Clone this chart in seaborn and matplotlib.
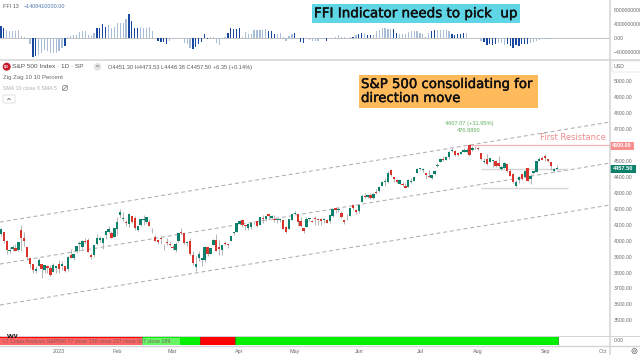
import matplotlib
matplotlib.use("Agg")
import matplotlib.pyplot as plt
import matplotlib.patheffects as pe
from matplotlib.patches import Circle, FancyBboxPatch, Rectangle
import numpy as np
import seaborn as sns

# S&P 500 daily candles, Dec 2022 to Sep 2023
candle_open = [
    4040, 4052, 3996, 3933, 3947, 3954, 3939, 4069, 4015, 3958, 3890, 3853, 3810, 3839, 3853, 3815, 3843, 3829, 3805, 3829,
    3853, 3840, 3839, 3823, 3910, 3888, 3932, 3977, 3960, 3999, 4002, 3911, 3909, 3978, 4001, 3982, 4036, 4053, 4049, 4020,
    4070, 4158, 4136, 4119, 4105, 4153, 4144, 4068, 4096, 4126, 4119, 4114, 4077, 4025, 4001, 4018, 3973, 3992, 3977,
    3963, 3938, 3998, 4055, 4048, 3987, 3998, 3912, 3835, 3894, 3876, 3878, 3958, 3917, 3975, 4002, 3959, 3939, 3982, 3974, 3999, 4046, 4056,
    4102, 4128, 4094, 4081, 4085, 4110, 4121, 4100, 4140, 4137, 4164, 4139, 4130, 4132, 4132, 4126, 4087, 4075, 4129,
    4166, 4164, 4122, 4082, 4084, 4136, 4124, 4143, 4132, 4138, 4126, 4127, 4122, 4157, 4204, 4190, 4176, 4132, 4155, 4156, 4226, 4190,
    4183, 4241, 4282, 4271, 4285, 4268, 4304, 4308, 4344, 4366, 4365, 4440, 4396, 4380, 4355, 4354, 4344, 4337, 4367, 4374, 4422,
    4450, 4442, 4422, 4404, 4394, 4415, 4467, 4491, 4514, 4508, 4521, 4563, 4561, 4550, 4543, 4555, 4558, 4598, 4565, 4584,
    4578, 4550, 4494, 4513, 4491, 4498, 4501, 4487, 4450, 4458, 4478, 4433, 4416, 4344, 4380, 4415, 4396, 4455, 4389, 4426, 4432, 4500, 4517,
    4530, 4510, 4490, 4434, 4451,
]
candle_high = [
    4080, 4052, 4001, 3957, 3974, 3977, 3990, 4100, 4053, 3958, 3890, 3854, 3838, 3888, 3853, 3845, 3846, 3848, 3858, 3839,
    3878, 3873, 3839, 3906, 3950, 3919, 3969, 3997, 4003, 4015, 4014, 3922, 3972, 4039, 4028, 4019, 4060, 4094, 4063, 4076,
    4148, 4195, 4182, 4126, 4176, 4156, 4156, 4094, 4138, 4159, 4148, 4136, 4081, 4034, 4003, 4028, 3978, 4018, 3997,
    3972, 3990, 4048, 4078, 4050, 4000, 4017, 3934, 3905, 3937, 3894, 3964, 3958, 3956, 4009, 4039, 4002, 3972, 3996, 3979, 4030, 4055, 4110,
    4127, 4133, 4099, 4107, 4109, 4124, 4124, 4150, 4163, 4151, 4169, 4162, 4158, 4138, 4142, 4126, 4089, 4138, 4170,
    4186, 4164, 4148, 4082, 4147, 4142, 4130, 4154, 4132, 4143, 4141, 4135, 4164, 4198, 4212, 4209, 4185, 4132, 4165, 4212, 4231, 4195,
    4232, 4290, 4299, 4288, 4299, 4298, 4322, 4340, 4375, 4391, 4439, 4448, 4400, 4386, 4382, 4366, 4362, 4384, 4390, 4398, 4458,
    4456, 4454, 4423, 4440, 4412, 4443, 4488, 4517, 4527, 4532, 4562, 4578, 4565, 4555, 4563, 4580, 4582, 4607, 4590, 4594,
    4584, 4550, 4519, 4540, 4519, 4503, 4502, 4527, 4476, 4490, 4478, 4449, 4421, 4381, 4407, 4418, 4443, 4458, 4418, 4436, 4500, 4521, 4532,
    4541, 4514, 4490, 4457, 4473,
]
candle_low = [
    4026, 3984, 3918, 3922, 3935, 3933, 3935, 3935, 3965, 3879, 3827, 3800, 3795, 3838, 3764, 3797, 3795, 3780, 3805, 3800,
    3794, 3815, 3802, 3809, 3890, 3877, 3925, 3937, 3947, 3984, 3926, 3885, 3897, 3973, 3990, 3949, 4013, 4048, 4015, 4020,
    4037, 4141, 4123, 4092, 4088, 4111, 4069, 4060, 4092, 4095, 4113, 4090, 4047, 3995, 3976, 3979, 3943, 3973, 3968,
    3939, 3928, 3990, 4044, 3980, 3969, 3908, 3846, 3808, 3873, 3838, 3864, 3901, 3916, 3971, 3936, 3908, 3909, 3970, 3951, 3999, 4032, 4056,
    4098, 4086, 4069, 4069, 4072, 4102, 4086, 4099, 4113, 4123, 4140, 4134, 4114, 4113, 4116, 4071, 4049, 4075, 4127,
    4164, 4089, 4088, 4048, 4084, 4123, 4116, 4098, 4099, 4099, 4109, 4109, 4113, 4148, 4176, 4179, 4142, 4103, 4129, 4156, 4192, 4166,
    4171, 4241, 4266, 4264, 4263, 4261, 4291, 4304, 4341, 4345, 4362, 4407, 4367, 4360, 4352, 4341, 4328, 4335, 4360, 4371, 4422,
    4442, 4431, 4385, 4397, 4389, 4408, 4464, 4490, 4499, 4504, 4514, 4557, 4527, 4532, 4541, 4553, 4547, 4528, 4560, 4573,
    4567, 4505, 4485, 4474, 4491, 4464, 4461, 4457, 4443, 4453, 4432, 4403, 4364, 4335, 4360, 4382, 4396, 4375, 4356, 4417, 4431, 4500, 4507,
    4501, 4491, 4442, 4430, 4448,
]
candle_close = [
    4071, 3998, 3941, 3933, 3963, 3934, 3990, 4019, 3995, 3895, 3852, 3817, 3821, 3878, 3822, 3844, 3829, 3783, 3849, 3839,
    3824, 3852, 3808, 3895, 3892, 3919, 3969, 3983, 3999, 3990, 3928, 3898, 3972, 4019, 4016, 4016, 4060, 4070, 4017, 4076,
    4119, 4179, 4136, 4111, 4164, 4117, 4081, 4090, 4137, 4136, 4147, 4090, 4079, 3997, 3991, 4012, 3970, 3982, 3970,
    3951, 3981, 4045, 4048, 3986, 3992, 3918, 3861, 3855, 3919, 3891, 3960, 3916, 3951, 4002, 3936, 3948, 3970, 3977, 3971, 4027, 4050, 4109,
    4124, 4100, 4090, 4105, 4109, 4108, 4091, 4146, 4137, 4151, 4154, 4154, 4129, 4133, 4137, 4071, 4055, 4135, 4169,
    4167, 4119, 4090, 4061, 4136, 4138, 4119, 4137, 4130, 4124, 4136, 4109, 4158, 4198, 4191, 4192, 4145, 4115, 4151, 4205, 4205, 4179,
    4221, 4282, 4273, 4283, 4267, 4293, 4298, 4338, 4369, 4372, 4425, 4409, 4388, 4365, 4381, 4348, 4328, 4378, 4376, 4396, 4450,
    4455, 4446, 4411, 4398, 4409, 4439, 4472, 4510, 4505, 4522, 4554, 4565, 4534, 4536, 4554, 4567, 4566, 4537, 4582, 4588,
    4576, 4513, 4501, 4478, 4518, 4499, 4467, 4468, 4464, 4489, 4437, 4404, 4370, 4369, 4399, 4387, 4436, 4376, 4405, 4433, 4497, 4514, 4507,
    4515, 4496, 4465, 4451, 4457.5,
]

# FFI histogram, in billions
ffi_values = [
    34, 29, 23, 19, 21, 21, 23, 6, 3, -2, -17, -55, -51, -48, -42, -34, -38, -44, -42, -44, -36, -29, -23,
    4, 6, 8, 10, 17, 20, 19, 10, 6, 14, 29, 29, 40, 32, 36, 29, 32, 43, 42, 44, 55, 69, 48, 29, 30, 31, 29, 30, 31, 19,
    1, -8, -10, -10, -17, -8, -4, -1, -4, -4, -14, -17, -29, -32, -25, -17, -10, 11, -4, 4, 2, -15, -19, -1, 4,
    15, 29, 25, 27, 29, 2, 17, 13, 13, 23, 24, 24, 24, 25, 19, 21, 11, 11, 15, 4, -8, 6, 13, 15, -4, -10, -13, -4, -6, -8, -8, -8,
    -2, -3, -8, -3, -2, 4, 8, 2, 4, -3, 4, 4, 8, 13, 15, 13, 8, 8, 8, 21, 24, 29, 30, 27, 27, 25, 15, 11, 13, 11, 17, 19, 19, 19, 15, 13,
    4, 15, 19, 23, 23, 23, 23, 23, 19, 11, 10, 11, 13, 15, 15, 1, 0, -1, -4, -8, -11, -19, -17, -19, -17, -15, -15, -21, -17, -23, -27,
    -19, -23, -17, -17, -17, -15, -10, -8, -6, -4, -4, -2, -2, -1, -1.41,
]
ffi_strong = [0, 1, 11, 12, 22, 33, 34, 35, 36, 44, 45, 46, 47, 54, 55, 56, 57, 66, 67, 68, 69, 70, 71, 78, 79, 80, 81, 82,
              92, 93, 94, 101, 103, 104, 112, 121, 123, 124, 126, 127, 135, 136, 148, 149, 155, 156, 157, 158, 159,
              166, 167, 168, 169, 170, 174, 175, 176, 177, 178, 179, 180, 181]
ffi_ticks = [80, 40, 0, -40]
ffi_tick_labels = ["80000000000.00", "40000000000.00", "0.00", "\u221240000000000.00"]

price_ticks = [3500, 3600, 3700, 3800, 3900, 4000, 4100, 4200, 4300, 4400, 4500, 4700, 4800, 4900, 5000]

month_bars = [20, 40, 59, 82, 101, 123, 144, 164, 187, 207]
month_labels = ["2023", "Feb", "Mar", "Apr", "May", "Jun", "Jul", "Aug", "Sep", "Oct"]

# channel ends
channel_bars = [-0.31, 209.3]
channel_upper = [4116, 4743]
channel_middle = [3853, 4486]
channel_lower = [3596, 4223]

resistance_level = 4600
support_levels = [4447, 4328]

strip_states = ["red", "green", "red", "green"]
strip_lengths = [49, 20, 12, 111]

W, H = 640, 355


def px_axes(left, top, right, bottom, **kw):
    return fig.add_axes([left / W, 1 - bottom / H, (right - left) / W, (bottom - top) / H], **kw)


sns.set_theme(style="white")
plt.rcParams["font.family"] = ["Liberation Sans", "DejaVu Sans"]

fig = plt.figure(figsize=(6.4, 3.55), dpi=100)
xlim = (-0.31, 209.3)
GRID = "#d4d4d8"
TICK = "#6b6b70"

# indicator panel
ax_ind = px_axes(0, 0, 610, 59)
ffi_bars = np.arange(len(ffi_values))
ffi_colors = ["#17479e" if i in ffi_strong else "#a9bdd6" for i in ffi_bars]
ax_ind.axhline(0, color="#b8b8bc", lw=0.6, zorder=0)
ax_ind.bar(ffi_bars, ffi_values, width=0.42, color=ffi_colors, lw=0, zorder=2)
ax_ind.set_xlim(xlim)
ax_ind.set_ylim(-59.7, 108.6)

# price panel
ax_main = px_axes(0, 60, 610, 335)
opens = np.array(candle_open, dtype=float)
closes = np.array(candle_close, dtype=float)
bars = np.arange(len(closes))
ax_main.vlines(bars, candle_low, candle_high, color="#a8a8a8", lw=0.6, zorder=2)
colors = np.where(closes >= opens, "#0c806a", "#d9342b")
ax_main.bar(bars, np.maximum(np.abs(closes - opens), 5), bottom=np.minimum(opens, closes), width=0.8,
            color=colors, lw=0, zorder=3)
for channel in (channel_upper, channel_middle, channel_lower):
    sns.lineplot(x=channel_bars, y=channel, color="#a9a9ad", lw=0.7, linestyle=(0, (4, 3)), ax=ax_main, zorder=1)
ax_main.hlines(resistance_level, 161.2, 209.3, color="#f2b3b3", lw=0.9, zorder=1)
ax_main.hlines(support_levels, 165, 194.9, color="#d6d6d6", lw=1.0, zorder=1)
ax_main.set_xlim(xlim)
ax_main.set_ylim(3408.5, 5131.6)

# state strip
ax_strip = px_axes(0, 336, 610, 345)
ends = np.cumsum(strip_lengths)
for state, end, length in zip(strip_states, ends, strip_lengths):
    face, edge = ("#ff0000", "#b80f0f") if state == "red" else ("#00f000", "#0d930d")
    ax_strip.bar(end - length - 0.5, 1, width=length, align="edge", color=face, edgecolor=edge, lw=0.5)
ax_strip.set_xlim(xlim)
ax_strip.set_ylim(0, 1)

for ax in (ax_ind, ax_main, ax_strip):
    sns.despine(ax=ax, left=True, bottom=True, top=True, right=True)
    ax.set_xlabel("")
    ax.set_ylabel("")
    ax.patch.set_alpha(0)
    ax.yaxis.tick_right()
    ax.tick_params(axis="both", length=0, labelsize=3.7, labelcolor=TICK, pad=3)
    ax.set_xticks([])

ax_ind.set_yticks(ffi_ticks, ffi_tick_labels)
ax_main.set_yticks(price_ticks, [f"{t:.2f}" for t in price_ticks])
ax_strip.set_yticks([0.5], ["0.00"])
ax_strip.set_xticks(month_bars, month_labels)
ax_strip.tick_params(axis="x", pad=3.2, labelsize=3.9)

# everything else is placed in pixels on an overlay
ov = fig.add_axes([0, 0, 1, 1], zorder=10)
ov.set_xlim(0, W)
ov.set_ylim(H, 0)
ov.axis("off")
ov.patch.set_alpha(0)

ov.plot([0, 640], [59.5, 59.5], color=GRID, lw=1.1)
ov.plot([0, 640], [335.5, 335.5], color=GRID, lw=0.7)
ov.plot([0, 640], [345.5, 345.5], color=GRID, lw=1.0)
ov.plot([610, 610], [0, 355], color=GRID, lw=1.1)

# strip legend text
ov.add_patch(Rectangle((0, 337.5), 180, 7, color="white", alpha=0.4, lw=0))
ov.text(3, 341.6, "LT Costa Analysis S&P500 77 close 130 close 237 close 507 close 189",
        fontsize=3.75, color="#7d5c5c", va="center", ha="left")
ov.text(7, 336.5, "vvv", fontsize=5, fontweight="bold", color="#111111", va="center", ha="left")

# header
ov.text(3, 6, "FFI 13", fontsize=3.9, color="#5a5a60", va="center")
ov.text(23.5, 6, "\u22121408410000.00", fontsize=3.9, color="#4a74ad", va="center")
ov.add_patch(Circle((6.7, 66.7), 4, color="#c9182b", lw=0))
ov.text(6.7, 66.8, "500", fontsize=2.2, color="white", ha="center", va="center", fontweight="bold")
ov.text(12.5, 67, "S&P 500 Index \u00b7 1D \u00b7 SP", fontsize=4.65, color="#55555a", va="center")
ov.add_patch(Circle((97.5, 66.8), 3.8, color="#e4e4e6", lw=0))
ov.text(97.5, 66.6, "=", fontsize=4, color="#55555a", ha="center", va="center")
ov.text(108, 67, "O4451.30 H4473.53 L4448.38 C4457.50 +6.35 (+0.14%)", fontsize=4.09, color="#5a5a60", va="center")
ov.text(3, 77.5, "Zig Zag 10 10 Percent", fontsize=4.3, color="#66666a", va="center")
ov.text(3, 88, "SMA 10 close 0 SMA 5", fontsize=3.8, color="#b0b0b4", va="center")
ov.add_patch(Circle((65, 88), 2.6, fill=False, ec="#77777b", lw=0.5))
ov.plot([62.5, 67.5], [90.5, 85.5], color="#77777b", lw=0.5)
ov.add_patch(FancyBboxPatch((3, 95), 12, 8, boxstyle="round,pad=0,rounding_size=1", fc="white", ec="#d4d4d8", lw=0.5))
ov.plot([7.5, 9, 10.5], [99.8, 98.3, 99.8], color="#55555a", lw=0.5)

# call-out boxes
heavy = [pe.withStroke(linewidth=0.3, foreground="#101010")]
ov.add_patch(Rectangle((312, 4), 208, 19, color="#5fd6e6", lw=0))
ov.text(314, 13.8, "FFI Indicator needs to pick  up", fontsize=9.7, color="#101010", family="DejaVu Sans",
        va="center", path_effects=heavy)
ov.add_patch(Rectangle((359, 75), 179, 33, color="#ffba5c", lw=0))
ov.text(361, 84.5, "S&P 500 consolidating for", fontsize=9.55, color="#101010", family="DejaVu Sans",
        va="center", path_effects=heavy)
ov.text(361, 98.5, "direction move", fontsize=9.55, color="#101010", family="DejaVu Sans",
        va="center", path_effects=heavy)

# chart notes
ov.text(469.5, 123.8, "4607.07 (+31.95%)", fontsize=4.1, color="#5fae5f", ha="center", va="center")
ov.text(469, 130.2, "476.8890", fontsize=4.1, color="#5fae5f", ha="center", va="center")
ov.text(540, 138, "First Resistance", fontsize=6.05, color="#f08c8c", family="DejaVu Sans", va="center")

# price tags
ov.add_patch(Rectangle((610, 141.5), 24, 8, color="#f78f8f", lw=0))
ov.text(622, 145.6, "4600.00", fontsize=3.9, color="white", fontweight="bold", ha="center", va="center")
ov.add_patch(Rectangle((610, 164.7), 26, 8, color="#0c806a", lw=0))
ov.text(623, 168.8, "4457.50", fontsize=4.1, color="white", fontweight="bold", ha="center", va="center")

# scale furniture
ov.add_patch(FancyBboxPatch((612, 61), 30, 11, boxstyle="round,pad=0,rounding_size=1", fc="white", ec="#e0e0e3", lw=0.5))
ov.text(614, 66.8, "USD", fontsize=3.8, color=TICK, va="center")
ov.add_patch(Circle((634.5, 351), 2.6, fill=False, ec="#66666a", lw=0.5))
ov.add_patch(Circle((634.5, 351), 1.1, fill=False, ec="#66666a", lw=0.4))

fig.savefig("out.png", dpi=100)
